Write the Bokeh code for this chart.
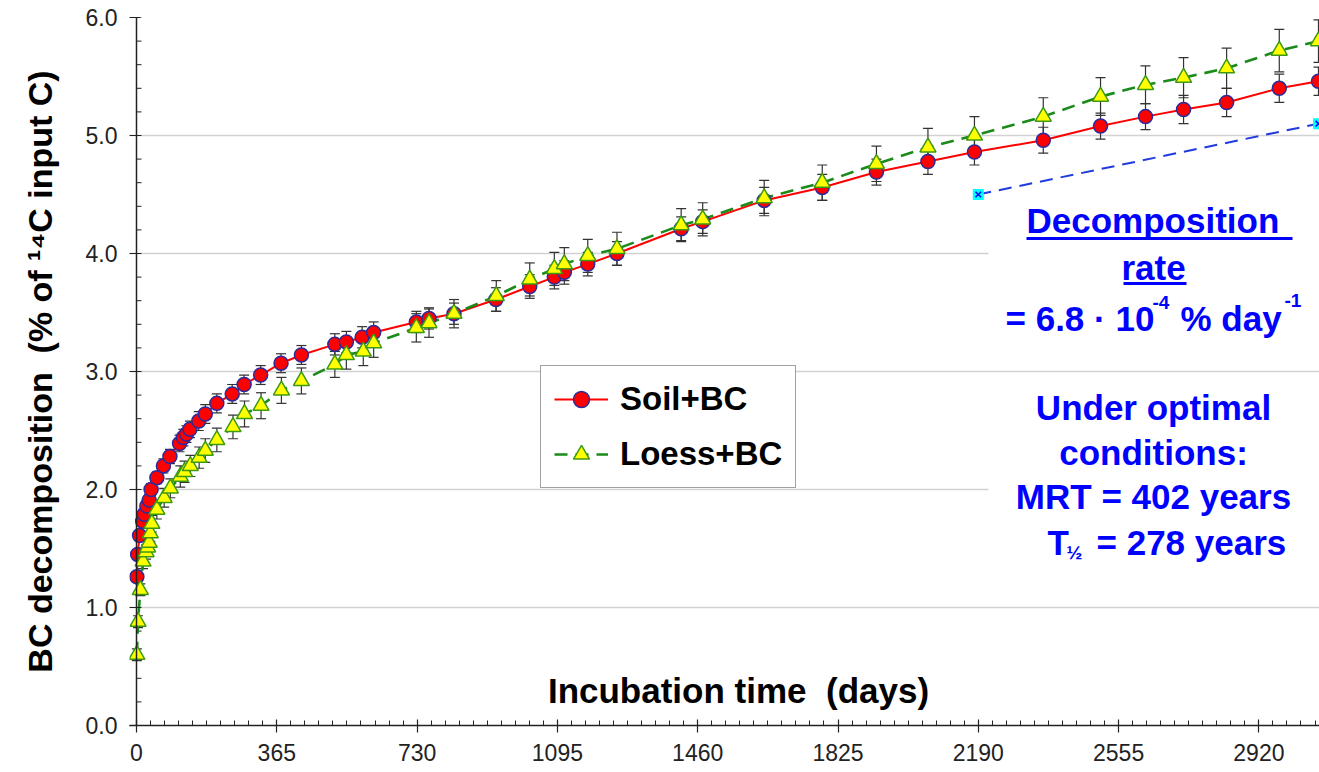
from bokeh.plotting import figure
from bokeh.models import (FixedTicker, Range1d, Label, Legend, LegendItem, Whisker, Span,
                          ColumnDataSource, TeeHead, NumeralTickFormatter)
from bokeh.embed import file_html
from bokeh.resources import INLINE

# ---------------- data ----------------
days_soil = [1, 3, 8, 16, 20, 27, 33, 38, 53,
             70, 87, 112, 122, 130, 139, 162, 179, 209,
             249, 280, 323, 376, 429, 516, 546, 587, 617,
             728, 761, 826, 935, 1023, 1087, 1113, 1174, 1250,
             1417, 1473, 1633, 1784, 1925, 2059, 2180, 2359, 2508,
             2625, 2724, 2836, 2973, 3075]
soil = [1.26, 1.45, 1.61, 1.73, 1.79, 1.86, 1.91, 2.00, 2.10,
        2.20, 2.28, 2.39, 2.44, 2.47, 2.51, 2.58, 2.64, 2.73,
        2.81, 2.89, 2.97, 3.07, 3.14, 3.23, 3.25, 3.29, 3.33,
        3.42, 3.45, 3.49, 3.61, 3.72, 3.80, 3.84, 3.91, 4.00,
        4.21, 4.27, 4.45, 4.56, 4.69, 4.78, 4.86, 4.96, 5.08,
        5.16, 5.22, 5.28, 5.40, 5.46]
soil_err = [0.03, 0.03, 0.04, 0.04, 0.04, 0.05, 0.05, 0.05, 0.05,
            0.06, 0.06, 0.07, 0.07, 0.07, 0.07, 0.08, 0.08, 0.08,
            0.08, 0.08, 0.08, 0.08, 0.08, 0.09, 0.09, 0.09, 0.09,
            0.09, 0.09, 0.09, 0.10, 0.10, 0.10, 0.10, 0.10, 0.10,
            0.10, 0.10, 0.11, 0.11, 0.11, 0.11, 0.11, 0.11, 0.11,
            0.11, 0.12, 0.12, 0.12, 0.12]

days_loess = [1, 4, 10, 17, 25, 29, 33, 36, 40,
              53, 72, 88, 114, 125, 140, 163, 179, 209,
              251, 281, 324, 377, 429, 516, 546, 590, 617,
              728, 761, 826, 936, 1023, 1087, 1113, 1174, 1250,
              1417, 1473, 1633, 1784, 1925, 2059, 2180, 2359, 2508,
              2625, 2724, 2836, 2973, 3075]
loess = [0.60, 0.88, 1.15, 1.39, 1.47, 1.51, 1.55, 1.63, 1.71,
         1.83, 1.93, 2.01, 2.11, 2.15, 2.20, 2.27, 2.33, 2.42,
         2.53, 2.64, 2.71, 2.84, 2.92, 3.06, 3.14, 3.17, 3.24,
         3.37, 3.41, 3.49, 3.64, 3.78, 3.87, 3.91, 3.98, 4.04,
         4.24, 4.29, 4.47, 4.60, 4.76, 4.90, 5.00, 5.16, 5.33,
         5.43, 5.49, 5.57, 5.72, 5.80]
loess_err = [0.05, 0.05, 0.05, 0.06, 0.06, 0.06, 0.06, 0.07, 0.07,
             0.08, 0.08, 0.08, 0.09, 0.09, 0.09, 0.09, 0.10, 0.10,
             0.10, 0.11, 0.11, 0.11, 0.11, 0.11, 0.12, 0.12, 0.12,
             0.12, 0.12, 0.12, 0.13, 0.14, 0.14, 0.14, 0.14, 0.14,
             0.14, 0.14, 0.15, 0.15, 0.15, 0.16, 0.16, 0.16, 0.16,
             0.16, 0.17, 0.17, 0.18, 0.18]

rate_days = [2190, 3075]
rate_vals = [4.50, 5.10]

x_ticks = [0, 365, 730, 1095, 1460, 1825, 2190, 2555, 2920]
y_ticks = [0.0, 1.0, 2.0, 3.0, 4.0, 5.0, 6.0]
y_minor = [0.2 * i for i in range(0, 31)]
grid_ticks = [1.0, 2.0, 3.0, 4.0, 5.0]
series_names = ["Soil+BC", "Loess+BC"]

# ---------------- layout ----------------
W, H = 1319, 772
AXIS_PX = 136          # page x of day 0
TOP_PX, BOT_PX = 17, 725
SCALE = 140.3 / 365.0  # px per day
FL = 129               # frame starts a few px left of day 0 so markers are not clipped
FT, FB = TOP_PX, H - BOT_PX
X_START = -(AXIS_PX - FL) / SCALE
X_END = (W - AXIS_PX) / SCALE
Y_MAX = 6.0
YS = (BOT_PX - TOP_PX) / Y_MAX


def px2x(px):
    return (px - AXIS_PX) / SCALE


def py2y(py):
    return (BOT_PX - py) / YS


FONT = "Liberation Sans"
BLUE = "#0000ff"
AXC = "#222222"

p = figure(width=W, height=H, x_range=Range1d(X_START, X_END), y_range=Range1d(0, Y_MAX),
           output_backend="svg", toolbar_location=None,
           min_border_left=FL, min_border_top=FT, min_border_bottom=FB, min_border_right=0)
p.outline_line_color = None
p.background_fill_color = "white"

# x axis
p.xaxis.ticker = FixedTicker(ticks=x_ticks, minor_ticks=[i * 36.5 for i in range(0, 85)])
p.xaxis.axis_line_color = AXC
p.xaxis.axis_line_width = 1.5
p.xaxis.major_tick_line_color = AXC
p.xaxis.minor_tick_line_color = AXC
p.xaxis.major_tick_line_width = 1.2
p.xaxis.major_tick_in = 6
p.xaxis.major_tick_out = 7
p.xaxis.minor_tick_in = 5
p.xaxis.minor_tick_out = 0
p.xaxis.major_label_standoff = 11

# y axis: the frame edge sits 7px left of day 0, so the major ticks cross day 0
p.yaxis.ticker = FixedTicker(ticks=y_ticks)
p.yaxis.formatter = NumeralTickFormatter(format="0.0")
p.yaxis.axis_line_color = None
p.yaxis.major_tick_line_color = AXC
p.yaxis.major_tick_line_width = 1.2
p.yaxis.major_tick_in = 11
p.yaxis.major_tick_out = 0
p.yaxis.minor_tick_line_color = None
p.yaxis.major_label_standoff = 12
p.yaxis.axis_label = "BC decomposition\u00a0 (% of \u00b9\u2074C input C)"
p.yaxis.axis_label_text_font = FONT
p.yaxis.axis_label_text_font_style = "bold"
p.yaxis.axis_label_text_font_size = "34px"
p.yaxis.axis_label_text_color = "black"
p.yaxis.axis_label_standoff = 24
for ax in (p.xaxis, p.yaxis):
    ax.major_label_text_font = FONT
    ax.major_label_text_font_size = "23px"
    ax.major_label_text_color = AXC

p.xgrid.visible = False
p.ygrid.ticker = FixedTicker(ticks=grid_ticks)
p.ygrid.grid_line_color = "#d2d2d2"
p.ygrid.grid_line_width = 1.5

# y axis line at day 0 and its inner minor ticks
p.add_layout(Span(location=0, dimension="height", line_color=AXC, line_width=1.5))
p.segment(x0=[0] * len(y_minor), x1=[px2x(AXIS_PX + 5)] * len(y_minor), y0=y_minor, y1=y_minor,
          line_color=AXC, line_width=1)

# white text boxes hiding the grid behind the annotation text
p.quad(left=[px2x(988), px2x(988)], right=[X_END, X_END],
       top=[py2y(202), py2y(385)], bottom=[py2y(335), py2y(575)],
       fill_color="white", line_color=None)

# lines
l_soil = p.line(days_soil, soil, line_color="#ff0000", line_width=2)
l_loess = p.line(days_loess, loess, line_color="#1a8a1a", line_width=2.6, line_dash="13 8")
p.line(rate_days, rate_vals, line_color="#1f3be0", line_width=2, line_dash="13 8")

# error bars
for d, v, e in ((days_soil, soil, soil_err), (days_loess, loess, loess_err)):
    src = ColumnDataSource(dict(x=d, up=[a + b for a, b in zip(v, e)], lo=[a - b for a, b in zip(v, e)]))
    p.add_layout(Whisker(source=src, base="x", upper="up", lower="lo",
                         line_color="#333333", line_width=1.2,
                         upper_head=TeeHead(size=10, line_color="#333333", line_width=1.2),
                         lower_head=TeeHead(size=10, line_color="#333333", line_width=1.2)))

# markers
m_soil = p.scatter(days_soil, soil, marker="circle", size=14, fill_color="#ff0000",
                   line_color="#2b2b9c", line_width=1.5)
m_loess = p.scatter(days_loess, loess, marker="triangle", size=16, fill_color="#ffff00",
                    line_color="#3c9a12", line_width=1.5)
p.scatter(rate_days, rate_vals, marker="square", size=11, fill_color="#00ffff", line_color=None)
p.scatter(rate_days, rate_vals, marker="x", size=8, line_color="#0000ff", line_width=1.5)

# legend (location = bottom-left corner, px from the frame's bottom-left)
legend = Legend(items=[LegendItem(label=series_names[0], renderers=[l_soil, m_soil]),
                       LegendItem(label=series_names[1], renderers=[l_loess, m_loess])],
                location=(540 - FL, BOT_PX - 488))
legend.label_text_font = FONT
legend.label_text_font_style = "bold"
legend.label_text_font_size = "33px"
legend.label_text_color = "black"
legend.glyph_width = 54
legend.glyph_height = 40
legend.label_height = 40
legend.label_standoff = 12
legend.spacing = 15
legend.padding = 13
legend.margin = 0
legend.border_line_color = "#444444"
legend.border_line_width = 1.5
legend.background_fill_color = "white"
legend.background_fill_alpha = 1
p.add_layout(legend)

# x axis title inside the plot
p.add_layout(Label(x=px2x(738), y=py2y(690), text="Incubation time\u00a0 (days)",
                   text_font=FONT, text_font_style="bold", text_font_size="35px",
                   text_align="center", text_baseline="middle", text_color="black"))

# annotation text
cx = px2x(1153)


def blabel(x, y, text, size="35px", align="center"):
    p.add_layout(Label(x=x, y=y, text=text, text_font=FONT, text_font_style="bold",
                       text_font_size=size, text_align=align, text_baseline="middle",
                       text_color=BLUE))


blabel(px2x(1026), py2y(220), "Decomposition", align="left")
blabel(cx, py2y(267), "rate")
blabel(px2x(1005), py2y(318), "= 6.8 \u00b7 10", align="left")
blabel(px2x(1152), py2y(302), "-4", size="19px", align="left")
blabel(px2x(1180), py2y(318), "% day", align="left")
blabel(px2x(1284), py2y(300), "-1", size="19px", align="left")
blabel(cx, py2y(407), "Under optimal")
blabel(cx, py2y(452), "conditions:")
blabel(cx, py2y(496), "MRT = 402 years")
blabel(px2x(1047), py2y(542), "T", align="left")
blabel(px2x(1066), py2y(552), "\u00bd", size="19px", align="left")
blabel(px2x(1096), py2y(542), "= 278 years", align="left")

# underlines
p.segment(x0=[px2x(1026), px2x(1123)], y0=[py2y(238), py2y(283)],
          x1=[px2x(1292), px2x(1186)], y1=[py2y(238), py2y(283)],
          line_color=BLUE, line_width=3)

open("out.html", "w").write(file_html(p, INLINE))
